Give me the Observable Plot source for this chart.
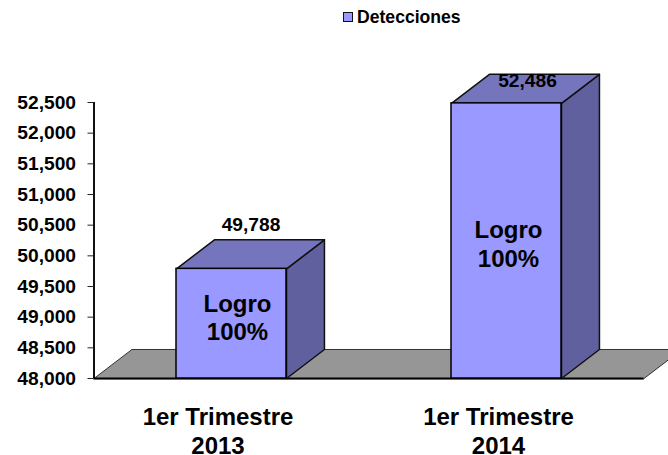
<!DOCTYPE html>
<html>
<head>
<meta charset="utf-8">
<script src="https://cdn.jsdelivr.net/npm/d3@7"></script>
<script src="https://cdn.jsdelivr.net/npm/@observablehq/plot@0.6"></script>
<style>
html,body{margin:0;padding:0;background:#fff;overflow:hidden}
#legend{height:30px;position:relative;font:bold 17.6px "Liberation Sans",Arial,sans-serif;color:#000}
#legend i{position:absolute;left:342.5px;top:11.5px;width:8.5px;height:8.5px;background:#9999ff;border:1.5px solid #111}
#legend span{position:absolute;left:357px;top:7px;line-height:20px}
svg{display:block}
</style>
</head>
<body>
<div id="legend"><i></i><span>Detecciones</span></div>
<div id="chart"></div>
<script>
const categories = ["1er Trimestre\n2013", "1er Trimestre\n2014"];
const detecciones = [49788, 52486];
const logro = ["Logro\n100%", "Logro\n100%"];
const yTicks = [48000, 48500, 49000, 49500, 50000, 50500, 51000, 51500, 52000, 52500];

const yBase = 48000, yMax = 52500;
const barHalf = 0.2, depthX = 0.138, depthY = 473;
const font = "Liberation Sans, Arial, sans-serif";
const C = {front: "#9999ff", top: "#7575bd", side: "#60609e", floor: "#969696"};
const fmt = d3.format(",");

const bars = categories.map((c, i) => ({c, v: detecciones[i], x0: i + 0.5 - barHalf, x1: i + 0.5 + barHalf, mid: i + 0.5}));
const poly = pts => pts.map(([x, y]) => ({x, y}));
const tops = bars.flatMap((b, k) => poly([[b.x0, b.v], [b.x1, b.v], [b.x1 + depthX, b.v + depthY], [b.x0 + depthX, b.v + depthY]]).map(p => ({...p, k})));
const sides = bars.flatMap((b, k) => poly([[b.x1, yBase], [b.x1, b.v], [b.x1 + depthX, b.v + depthY], [b.x1 + depthX, yBase + depthY]]).map(p => ({...p, k})));
const floor = poly([[0, yBase], [depthX, yBase + depthY], [2 + depthX, yBase + depthY], [2, yBase]]);

const textBase = {fontFamily: font, fontWeight: "bold", fill: "#000"};
const plot = Plot.plot({
  width: 668, height: 425,
  marginLeft: 93.5, marginRight: 24.5, marginTop: 72, marginBottom: 77,
  x: {type: "linear", domain: [0, 2], axis: null},
  y: {domain: [yBase, yMax], axis: null},
  style: {background: "#fff", overflow: "hidden"},
  marks: [
    Plot.line(floor, {x: "x", y: "y", curve: "linear-closed", fill: C.floor, stroke: "#333", strokeWidth: 1}),
    Plot.ruleX([0], {y1: yBase, y2: yMax, stroke: "#111", strokeWidth: 2}),
    Plot.ruleY([yBase], {x1: 0, x2: 2, stroke: "#000", strokeWidth: 2}),
    Plot.axisY({ticks: yTicks, tickFormat: d => fmt(d), tickSize: 6, tickPadding: 12, stroke: "#222", fontSize: 19.2, ...textBase, label: null, anchor: "left"}),
    Plot.line(sides, {x: "x", y: "y", z: "k", curve: "linear-closed", fill: C.side, stroke: "#111", strokeWidth: 1.5}),
    Plot.line(tops, {x: "x", y: "y", z: "k", curve: "linear-closed", fill: C.top, stroke: "#111", strokeWidth: 1.5}),
    Plot.rectY(bars, {x1: "x0", x2: "x1", y1: yBase, y2: "v", fill: C.front, stroke: "#000", strokeWidth: 1.5}),
    Plot.text([bars[0]], {x: "mid", y: "v", text: d => fmt(d.v), dx: 19.5, dy: -44, fontSize: 19.2, ...textBase}),
    Plot.text([bars[1]], {x: "mid", y: "v", text: d => fmt(d.v), dx: 21, dy: -23, fontSize: 19.2, ...textBase}),
    Plot.text([bars[0]], {x: "mid", y: "v", text: () => logro[0], dx: 6, dy: 48, fontSize: 24, lineHeight: 1.2, ...textBase}),
    Plot.text([bars[1]], {x: "mid", y: "v", text: () => logro[1], dx: 2, dy: 140, fontSize: 24, lineHeight: 1.2, ...textBase}),
    Plot.text([bars[0]], {x: "mid", y: yBase, text: "c", dx: -13.5, dy: 51.5, fontSize: 24, lineHeight: 1.2, ...textBase}),
    Plot.text([bars[1]], {x: "mid", y: yBase, text: "c", dx: -8, dy: 51.5, fontSize: 24, lineHeight: 1.2, ...textBase})
  ]
});
document.getElementById("chart").appendChild(plot);
</script>
</body>
</html>
